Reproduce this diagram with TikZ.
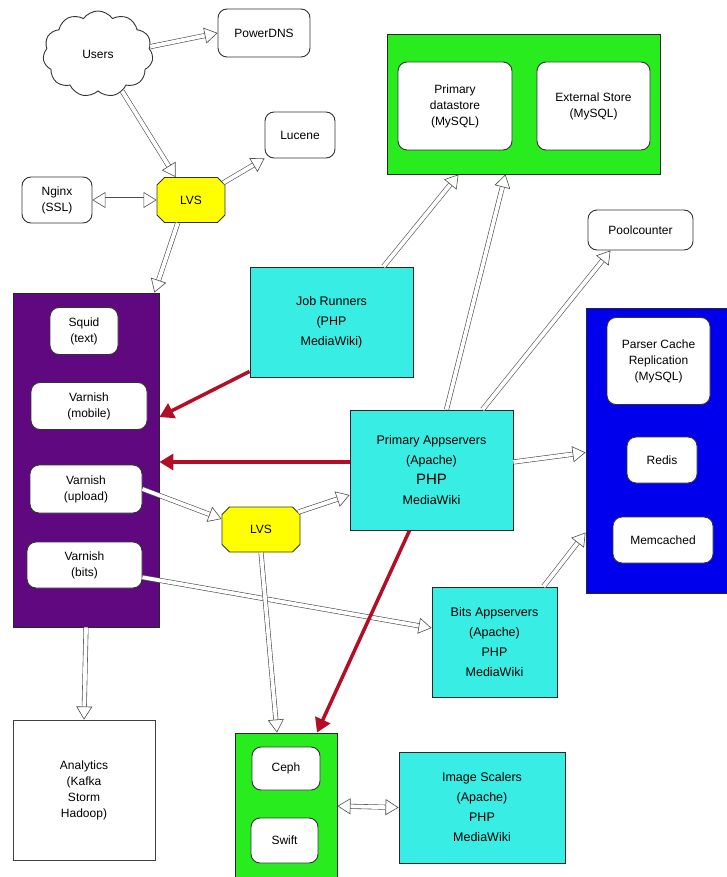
\documentclass[tikz,border=0pt]{standalone}
\usepackage{fontspec}
\setmainfont{Liberation Sans}
\usetikzlibrary{shapes.symbols,shapes.misc,arrows.meta}
\definecolor{vpurple}{RGB}{96,8,128}
\definecolor{appcyan}{RGB}{56,238,228}
\definecolor{boxgreen}{RGB}{40,236,30}
\definecolor{boxblue}{RGB}{0,0,236}
\definecolor{lvsyellow}{RGB}{255,255,0}
\definecolor{arrred}{RGB}{180,14,38}
\begin{document}
\begin{tikzpicture}[x=1pt,y=-1pt,
  font=\fontsize{12}{16}\selectfont,
  wbox/.style={draw=black!80, fill=white, rounded corners=9pt, align=center, line width=0.9pt, inner sep=2pt},
  cbox/.style={draw=black!85, fill=appcyan, align=center, line width=0.9pt, font=\fontsize{12.5}{20}\selectfont},
  cont/.style={draw=black!85, line width=0.9pt, inner sep=0pt},
  lvsbox/.style={chamfered rectangle, chamfered rectangle xsep=4pt, draw=black!80, fill=lvsyellow, line width=0.9pt, inner sep=2pt},
  hollow/.style={draw=black!70, double=white, double distance=3.8pt, line width=0.6pt, -{Triangle[open, fill=white, length=13pt, width=16pt]}},
  hollowboth/.style={hollow, {Triangle[open, fill=white, length=13pt, width=16pt]}-{Triangle[open, fill=white, length=13pt, width=16pt]}},
  redarrow/.style={draw=arrred, line width=3.5pt, -{Triangle[length=14pt, width=16pt]}},
]
\useasboundingbox (0,0) rectangle (727,877);

% containers
\node[cont, fill=boxgreen, minimum width=273pt, minimum height=140pt] (green) at (523.5,104) {};
\node[cont, fill=vpurple, minimum width=146pt, minimum height=334pt] (purple) at (86,460) {};
\node[cont, fill=boxblue, minimum width=142pt, minimum height=285pt] (blue) at (657,450.5) {};
\node[cont, fill=boxgreen, minimum width=102pt, minimum height=146pt] (green2) at (286,806) {};

% top area
\node[cloud, cloud puffs=11, cloud puff arc=110, draw=black!80, fill=white, line width=0.9pt, minimum width=110pt, minimum height=86pt] (users) at (98,54) {Users};
\node[wbox, minimum width=92pt, minimum height=48pt] (pdns) at (264,33) {PowerDNS};
\node[wbox, minimum width=70pt, minimum height=46pt] (lucene) at (300,135) {Lucene};
\node[wbox, minimum width=70pt, minimum height=46pt] (nginx) at (57,200) {Nginx\\(SSL)};
\node[lvsbox, minimum width=68pt, minimum height=45pt] (lvs) at (191,200) {LVS};

% green top inner
\node[wbox, minimum width=114pt, minimum height=88pt] (pds) at (455,106) {Primary\\datastore\\(MySQL)};
\node[wbox, minimum width=113pt, minimum height=88pt] (ext) at (593.5,106) {External Store\\(MySQL)};
\node[wbox, minimum width=105pt, minimum height=40pt] (pool) at (640.5,230) {Poolcounter};

% purple inner
\node[wbox, minimum width=68pt, minimum height=47pt] (squid) at (84,331) {Squid\\(text)};
\node[wbox, minimum width=116pt, minimum height=47pt] (vmob) at (89,406) {Varnish\\(mobile)};
\node[wbox, minimum width=112pt, minimum height=48pt] (vup) at (86,489) {Varnish\\(upload)};
\node[wbox, minimum width=115pt, minimum height=46pt] (vbits) at (84.5,565) {Varnish\\(bits)};

% blue inner
\node[wbox, minimum width=103pt, minimum height=87pt] (pcache) at (658.5,361) {Parser Cache\\Replication\\(MySQL)};
\node[wbox, minimum width=70pt, minimum height=46pt] (redis) at (662,460) {Redis};
\node[wbox, minimum width=100pt, minimum height=46pt] (memc) at (663,540) {Memcached};

% app servers
\node[cbox, minimum width=163pt, minimum height=110pt] (jobr) at (331.5,322) {Job Runners\\(PHP\\MediaWiki)};
\node[cbox, minimum width=163pt, minimum height=120pt] (app) at (431.5,470) {Primary Appservers\\(Apache)\\{\fontsize{15}{20}\selectfont PHP}\\MediaWiki};
\node[lvsbox, minimum width=78pt, minimum height=45pt] (lvs2) at (261,529.5) {LVS};
\node[cbox, minimum width=125pt, minimum height=110pt] (bits) at (494.5,642) {Bits Appservers\\(Apache)\\PHP\\MediaWiki};
\node[cbox, minimum width=166pt, minimum height=111pt] (imgs) at (482,807.5) {Image Scalers\\(Apache)\\PHP\\MediaWiki};

% bottom
\node[draw=black!75, fill=white, line width=0.9pt, align=center, minimum width=142pt, minimum height=140pt] (analytics) at (84,790) {Analytics\\(Kafka\\Storm\\Hadoop)};
\node[wbox, minimum width=68pt, minimum height=43pt] (ceph) at (286,768.5) {Ceph};
\node[wbox, minimum width=67pt, minimum height=45pt] (swift) at (284.5,840.5) {Swift};

% hollow connectors
\draw[hollow] (users.8) -- (pdns.west);
\draw[hollow] (users.-57) -- (lvs.124);
\draw[hollow] (lvs.28) -- (lucene.south west);
\draw[hollowboth] (nginx.east) -- (lvs.west);
\draw[hollow] (lvs.-120) -- ([xshift=-5pt]purple.north east);
\draw[hollow] ([xshift=52pt]jobr.north) -- ([xshift=-65pt]green.south);
\draw[hollow] ([xshift=15pt]app.north) -- ([xshift=-18pt]green.south);
\draw[hollow] ([xshift=51pt]app.north) -- ([xshift=-30pt]pool.south);
\draw[hollow] ([yshift=8pt]app.east) -- ([yshift=-2pt]blue.west);
\draw[hollow] ([xshift=49pt]bits.north) -- ([yshift=-82pt]blue.west);
\draw[hollow] (vup.east) -- (lvs2.165);
\draw[hollow] (lvs2.25) -- ([yshift=-25pt]app.west);
\draw[hollow] (vbits.-12) -- ([yshift=14pt]bits.west);
\draw[hollow] (lvs2.south) -- ([xshift=-9pt]green2.north);
\draw[hollow] (purple.south) -- (analytics.north);
\draw[hollowboth] (green2.east) -- (imgs.west);

% red connectors
\draw[redarrow] ([yshift=6pt]jobr.south west) -- ([yshift=43pt]purple.east);
\draw[redarrow] ([yshift=8pt]app.west) -- ([yshift=-2pt]purple.east);
\draw[redarrow] ([xshift=-22pt]app.south) -- ([xshift=31pt]green2.north);
\end{tikzpicture}
\end{document}
